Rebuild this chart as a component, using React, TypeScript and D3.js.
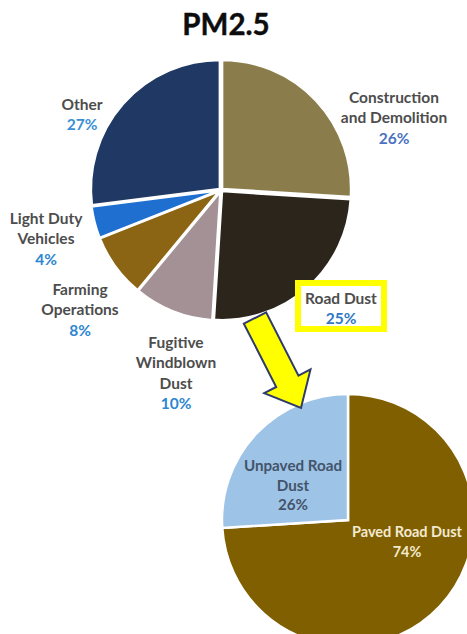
import React from "react";
import * as d3 from "d3";

// ---- data ----
const topCategories = [
  "Construction and Demolition",
  "Road Dust",
  "Fugitive Windblown Dust",
  "Farming Operations",
  "Light Duty Vehicles",
  "Other",
];
const topValues = [26, 25, 10, 8, 4, 27];
const topLabelLines = [
  ["Construction", "and Demolition"],
  ["Road Dust"],
  ["Fugitive", "Windblown", "Dust"],
  ["Farming", "Operations"],
  ["Light Duty", "Vehicles"],
  ["Other"],
];
const roadCategories = ["Paved Road Dust", "Unpaved Road Dust"];
const roadValues = [74, 26];
const roadLabelLines = [["Paved Road Dust"], ["Unpaved Road", "Dust"]];

// ---- styles / layout ----
const topColors = ["#8b7d4b", "#2c251c", "#a39196", "#8c6514", "#1f6fd0", "#1f3864"];
const topPctColors = ["#4a72c0", "#2e78c4", "#2e86d0", "#2e86d0", "#2e86d0", "#3a8fd6"];
const topLabelPos: [number, number][] = [
  [394, 97],
  [341, 298],
  [176, 342],
  [80, 289],
  [46, 218],
  [82, 104],
];
const roadColors = ["#7f5f00", "#9dc3e6"];
const roadTextColors = ["#f3ead0", "#44546a"];
const roadLabelPos: [number, number][] = [
  [407, 532],
  [293, 466],
];

const W = 467;
const H = 634;
const FONT = "Lato, 'Open Sans', sans-serif";

export default function App() {
  const topC = { x: 221, y: 190 };
  const topR = 129;
  const botC = { x: 348, y: 520 };
  const botR = 126;

  const pie = d3.pie<number>().sort(null).value((d) => d);
  const topArcs = pie(topValues);
  const botArcs = pie(roadValues);
  const topArc = d3.arc<d3.PieArcDatum<number>>().innerRadius(0).outerRadius(topR);
  const botArc = d3.arc<d3.PieArcDatum<number>>().innerRadius(0).outerRadius(botR);

  // arrow geometry
  const S = [255, 318];
  const T = [301, 408];
  const dx = T[0] - S[0];
  const dy = T[1] - S[1];
  const len = Math.hypot(dx, dy);
  const ux = dx / len;
  const uy = dy / len;
  const px = -uy;
  const py = ux;
  const sw = 12.5;
  const hw = 26;
  const hl = 30;
  const B = [T[0] - ux * hl, T[1] - uy * hl];
  const arrowPts = [
    [S[0] + px * sw, S[1] + py * sw],
    [B[0] + px * sw, B[1] + py * sw],
    [B[0] + px * hw, B[1] + py * hw],
    [T[0], T[1]],
    [B[0] - px * hw, B[1] - py * hw],
    [B[0] - px * sw, B[1] - py * sw],
    [S[0] - px * sw, S[1] - py * sw],
  ];

  const lineH = 20.5;

  return (
    <svg
      width={W}
      height={H}
      style={{ position: "absolute", left: 0, top: 0, display: "block", background: "#fff" }}
    >
      <text
        x={226}
        y={35}
        textAnchor="middle"
        fontFamily={FONT}
        fontWeight={700}
        fontSize={29.5}
        fill="#0d0d0d"
        stroke="#0d0d0d"
        strokeWidth={0.4}
      >
        PM2.5
      </text>

      <g transform={`translate(${topC.x},${topC.y})`}>
        {topArcs.map((a, i) => {
          const mid = (a.startAngle + a.endAngle) / 2;
          const off = 1.5;
          return (
            <path
              key={topCategories[i]}
              d={topArc(a) || ""}
              fill={topColors[i]}
              stroke="#fff"
              strokeWidth={2.5}
              strokeLinejoin="round"
              transform={`translate(${Math.sin(mid) * off},${-Math.cos(mid) * off})`}
            />
          );
        })}
      </g>

      {/* road dust highlight box */}
      <rect x={298} y={283} width={86} height={46} fill="#fff" stroke="#ffff00" strokeWidth={6} />

      {topCategories.map((c, i) => {
        const [x, y] = topLabelPos[i];
        const lines = topLabelLines[i];
        return (
          <text
            key={c}
            textAnchor="middle"
            fontFamily={FONT}
            fontWeight={700}
            fontSize={15.5}
          >
            {lines.map((l, j) => (
              <tspan key={j} x={x} y={y + 5.5 + j * lineH} fill="#4d4d4d">
                {l}
              </tspan>
            ))}
            <tspan x={x} y={y + 5.5 + lines.length * lineH} fill={topPctColors[i]}>
              {topValues[i]}%
            </tspan>
          </text>
        );
      })}

      <g transform={`translate(${botC.x},${botC.y})`}>
        {botArcs.map((a, i) => (
          <path
            key={roadCategories[i]}
            d={botArc(a) || ""}
            fill={roadColors[i]}
            stroke="#fff"
            strokeWidth={2.5}
          />
        ))}
      </g>

      {roadCategories.map((c, i) => {
        const [x, y] = roadLabelPos[i];
        const lines = roadLabelLines[i];
        return (
          <text
            key={c}
            textAnchor="middle"
            fontFamily={FONT}
            fontWeight={700}
            fontSize={i === 0 ? 14.5 : 15.2}
            fill={roadTextColors[i]}
          >
            {lines.map((l, j) => (
              <tspan key={j} x={x} y={y + 5 + j * 19.5}>
                {l}
              </tspan>
            ))}
            <tspan x={x} y={y + 5 + lines.length * 19.5}>
              {roadValues[i]}%
            </tspan>
          </text>
        );
      })}

      <polygon
        points={arrowPts.map((p) => p.join(",")).join(" ")}
        fill="#ffff00"
        stroke="#2f3b69"
        strokeWidth={2}
        strokeLinejoin="miter"
      />
    </svg>
  );
}
